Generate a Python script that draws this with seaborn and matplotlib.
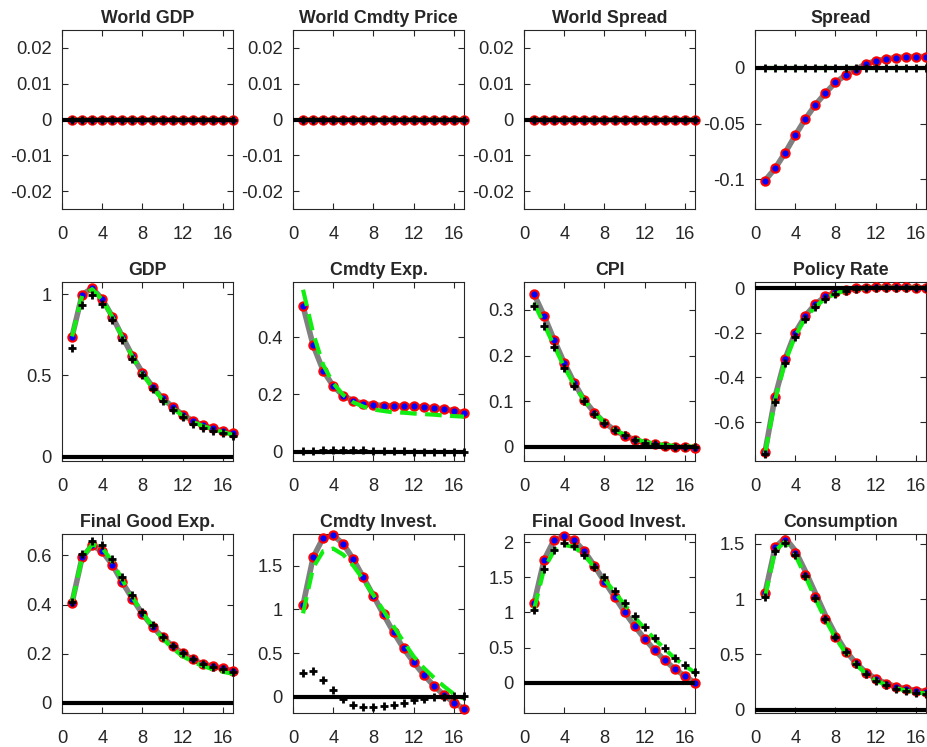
import matplotlib
matplotlib.use("Agg")
import matplotlib.pyplot as plt
import seaborn as sns
import numpy as np
import pandas as pd
from matplotlib.ticker import FuncFormatter

sns.set_style("ticks")
plt.rcParams["font.family"] = ["Liberation Sans", "DejaVu Sans"]

periods = list(range(1, 18))

titles = ["World GDP", "World Cmdty Price", "World Spread", "Spread",
          "GDP", "Cmdty Exp.", "CPI", "Policy Rate",
          "Final Good Exp.", "Cmdty Invest.", "Final Good Invest.", "Consumption"]

zeros = [0.0] * 17

# model response (gray line + circles)
spread_circ = [-0.101, -0.090, -0.076, -0.0605, -0.0458, -0.0331, -0.0226, -0.0130, -0.0066,
               -0.0015, 0.0036, 0.0063, 0.0081, 0.0093, 0.0099, 0.0102, 0.0102]
gdp_circ = [0.739, 0.996, 1.037, 0.969, 0.862, 0.739, 0.620, 0.517, 0.431, 0.359, 0.308,
            0.259, 0.222, 0.195, 0.175, 0.158, 0.144]
cexp_circ = [0.508, 0.372, 0.283, 0.229, 0.195, 0.178, 0.168, 0.164, 0.161, 0.160, 0.159,
             0.158, 0.156, 0.153, 0.149, 0.143, 0.136]
cpi_circ = [0.334, 0.287, 0.234, 0.184, 0.140, 0.102, 0.075, 0.053, 0.037, 0.024, 0.016,
            0.009, 0.006, 0.0015, 0.0, -0.001, -0.002]
rate_circ = [-0.733, -0.486, -0.316, -0.199, -0.124, -0.072, -0.037, -0.019, -0.007, -0.0015,
             0.0015, 0.003, 0.003, 0.003, 0.003, 0.002, 0.001]
fge_circ = [0.408, 0.592, 0.641, 0.616, 0.562, 0.490, 0.424, 0.362, 0.310, 0.267, 0.231,
            0.201, 0.177, 0.158, 0.150, 0.140, 0.131]
cinv_circ = [1.052, 1.596, 1.822, 1.848, 1.751, 1.575, 1.366, 1.156, 0.943, 0.737, 0.553,
             0.394, 0.251, 0.126, 0.021, -0.067, -0.138]
fgi_circ = [1.129, 1.748, 2.033, 2.080, 2.024, 1.871, 1.662, 1.438, 1.224, 1.005, 0.805,
            0.624, 0.462, 0.319, 0.195, 0.095, 0.0]
cons_circ = [1.055, 1.470, 1.533, 1.418, 1.221, 1.018, 0.824, 0.661, 0.524, 0.418, 0.333,
             0.276, 0.236, 0.206, 0.185, 0.170, 0.161]
cons_gray = [1.055, 1.470, 1.555, 1.440, 1.255, 1.055, 0.855, 0.680, 0.535, 0.425, 0.340,
             0.280, 0.240, 0.210, 0.190, 0.175, 0.165]

# alternative (green dashed)
gdp_green = [0.74, 0.99, 1.03, 0.965, 0.86, 0.735, 0.615, 0.51, 0.425, 0.352, 0.30,
             0.253, 0.215, 0.19, 0.17, 0.152, 0.135]
cexp_green = [0.566, 0.414, 0.303, 0.239, 0.198, 0.172, 0.157, 0.147, 0.142, 0.137, 0.136,
              0.133, 0.131, 0.129, 0.126, 0.124, 0.122]
cpi_green = [0.315, 0.268, 0.221, 0.175, 0.135, 0.102, 0.074, 0.054, 0.038, 0.026, 0.017,
             0.011, 0.007, 0.004, 0.002, 0.001, 0.0]
rate_green = [-0.74, -0.50, -0.33, -0.215, -0.135, -0.083, -0.047, -0.025, -0.011, -0.004,
              0.0, 0.001, 0.001, 0.001, 0.001, 0.001, 0.0]
fge_green = [0.41, 0.59, 0.645, 0.63, 0.575, 0.50, 0.43, 0.365, 0.31, 0.262, 0.222,
             0.19, 0.168, 0.15, 0.137, 0.127, 0.118]
cinv_green = [0.955, 1.48, 1.668, 1.697, 1.626, 1.50, 1.34, 1.165, 0.985, 0.805, 0.629,
              0.461, 0.33, 0.22, 0.12, 0.03, -0.02]
fgi_green = [1.04, 1.62, 1.88, 1.96, 1.93, 1.81, 1.645, 1.47, 1.29, 1.11, 0.93,
             0.77, 0.62, 0.48, 0.345, 0.245, 0.14]
cons_green = [1.02, 1.44, 1.52, 1.40, 1.21, 1.005, 0.815, 0.65, 0.515, 0.41, 0.33,
              0.265, 0.225, 0.195, 0.172, 0.157, 0.145]

# data (black plus)
gdp_plus = [0.667, 0.934, 0.992, 0.940, 0.838, 0.719, 0.602, 0.503, 0.415, 0.345, 0.287,
            0.246, 0.205, 0.179, 0.158, 0.144, 0.127]
cexp_plus = [0.002, 0.003, 0.005, 0.006, 0.006, 0.005, 0.004, 0.003, 0.002, 0.001, 0.001,
             0.0, 0.0, 0.0, 0.0, 0.0, 0.0]
cpi_plus = [0.309, 0.265, 0.218, 0.172, 0.133, 0.101, 0.073, 0.053, 0.037, 0.025, 0.015,
            0.009, 0.006, 0.0015, 0.0, 0.0, 0.0]
rate_plus = [-0.744, -0.509, -0.337, -0.220, -0.139, -0.087, -0.049, -0.027, -0.012, -0.004,
             0.0, 0.0, 0.0, 0.0, 0.0, 0.0, 0.0]
fge_plus = [0.412, 0.605, 0.660, 0.643, 0.585, 0.512, 0.439, 0.371, 0.317, 0.269, 0.231,
            0.204, 0.180, 0.160, 0.147, 0.136, 0.127]
cinv_plus = [0.277, 0.293, 0.193, 0.075, -0.029, -0.092, -0.122, -0.122, -0.109, -0.092,
             -0.067, -0.042, -0.025, -0.008, 0.0, 0.004, 0.004]
fgi_plus = [1.033, 1.614, 1.890, 1.986, 1.948, 1.819, 1.652, 1.500, 1.310, 1.129, 0.948,
            0.786, 0.638, 0.495, 0.357, 0.257, 0.152]
cons_plus = [1.024, 1.439, 1.509, 1.397, 1.212, 1.009, 0.818, 0.655, 0.518, 0.412, 0.327,
             0.261, 0.221, 0.191, 0.167, 0.152, 0.139]

circ_list = [zeros, zeros, zeros, spread_circ, gdp_circ, cexp_circ, cpi_circ, rate_circ,
             fge_circ, cinv_circ, fgi_circ, cons_circ]
gray_list = circ_list[:11] + [cons_gray]
green_list = [zeros, zeros, zeros, zeros, gdp_green, cexp_green, cpi_green, rate_green,
              fge_green, cinv_green, fgi_green, cons_green]
plus_list = [zeros, zeros, zeros, zeros, gdp_plus, cexp_plus, cpi_plus, rate_plus,
             fge_plus, cinv_plus, fgi_plus, cons_plus]

ylims = [(-0.025, 0.025), (-0.025, 0.025), (-0.025, 0.025), (-0.1265, 0.034),
         (-0.025, 1.074), (-0.033, 0.593), (-0.031, 0.361), (-0.774, 0.027),
         (-0.041, 0.687), (-0.186, 1.864), (-0.43, 2.115), (-0.03, 1.59)]
yticks = [[-0.02, -0.01, 0, 0.01, 0.02]] * 3 + [[-0.1, -0.05, 0],
          [0, 0.5, 1], [0, 0.2, 0.4], [0, 0.1, 0.2, 0.3], [-0.6, -0.4, -0.2, 0],
          [0, 0.2, 0.4, 0.6], [0, 0.5, 1, 1.5], [0, 0.5, 1, 1.5, 2], [0, 0.5, 1, 1.5]]

W, H = 927, 747
fig = plt.figure(figsize=(W / 100, H / 100), dpi=100)
lefts = [62, 293, 524, 755]
tops = [30, 282, 534]
aw, ah = 171, 179

fmt = FuncFormatter(lambda v, p: f"{v:g}")

for i, title in enumerate(titles):
    r, c = divmod(i, 4)
    ax = fig.add_axes([lefts[c] / W, 1 - (tops[r] + ah) / H, aw / W, ah / H])
    df = pd.DataFrame({"t": periods, "gray": gray_list[i], "circ": circ_list[i],
                       "green": green_list[i], "plus": plus_list[i]})
    sns.lineplot(data=df, x="t", y="gray", color="#808080", lw=4, ax=ax, zorder=2)
    sns.scatterplot(data=df, x="t", y="circ", marker="o", s=36, color="blue",
                    edgecolor="red", linewidth=1.5, ax=ax, zorder=3, clip_on=False)
    sns.lineplot(data=df, x="t", y="green", color="#11ee11", lw=3, ax=ax, zorder=4,
                 linestyle=(0, (4, 2)))
    ax.axhline(0, color="black", lw=3, zorder=5)
    sns.scatterplot(data=df, x="t", y="plus", marker="+", s=30, color="black",
                    linewidth=2, ax=ax, zorder=6, clip_on=False)
    ax.set_xlim(0, 17)
    ax.set_ylim(*ylims[i])
    ax.set_xticks([0, 4, 8, 12, 16])
    ax.set_yticks(yticks[i])
    ax.yaxis.set_major_formatter(fmt)
    ax.set_xlabel("")
    ax.set_ylabel("")
    ax.set_title(title, fontsize=12.8, fontweight="bold", pad=5)
    ax.tick_params(direction="in", top=True, right=True, length=4, width=0.8,
                   labelsize=13.2, labelcolor="#262626", color="#262626")
    ax.tick_params(axis="x", pad=12)
    ax.tick_params(axis="y", pad=7.5)
    for s in ax.spines.values():
        s.set_color("#262626")
        s.set_linewidth(0.8)

fig.savefig("out.png", dpi=100)
